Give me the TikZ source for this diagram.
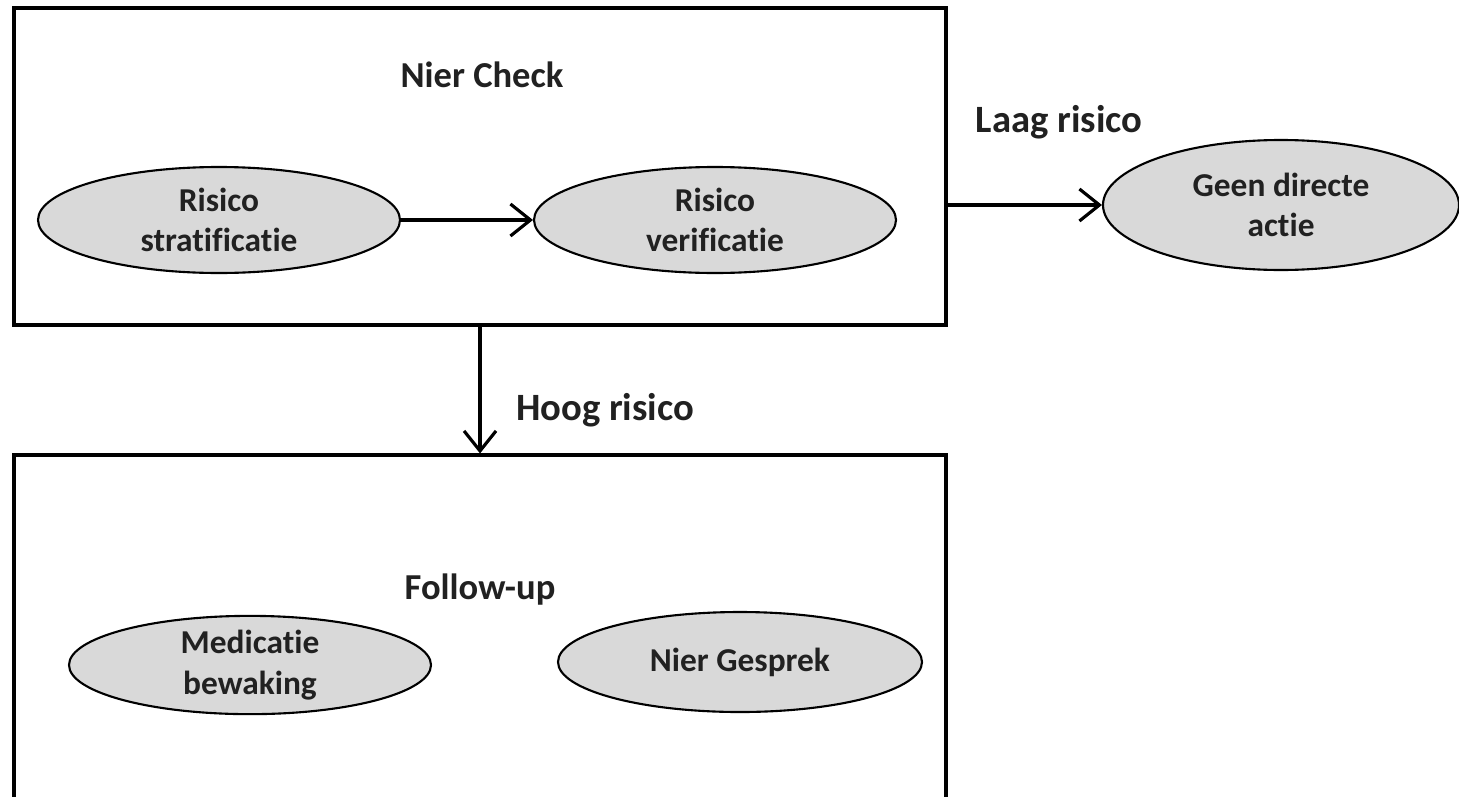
\documentclass[tikz,border=0pt]{standalone}
\usepackage{fontspec}
\setmainfont[Ligatures=NoCommon]{Carlito}
\usepackage{tikz}
\usetikzlibrary{shapes.geometric,arrows.meta}
\definecolor{bubbleGray}{rgb}{0.85,0.85,0.85}
\definecolor{textGray}{rgb}{0.13,0.13,0.13}

\begin{document}
\begin{tikzpicture}[font=\fontsize{9.5}{11.5}\selectfont\bfseries,
  groupbox/.style={draw, line width=0.9pt, minimum width=9.32cm, inner sep=0pt},
  bubble/.style={ellipse, draw, line width=0.6pt, fill=bubbleGray, text=textGray, align=center, inner sep=0pt},
  flow/.style={line width=0.9pt, -{Straight Barb[length=2mm, width=3.2mm, line width=0.9pt]}},
  title/.style={text=textGray, font=\fontsize{10.4}{12}\selectfont\bfseries},
  tag/.style={text=textGray, font=\fontsize{11}{13}\selectfont\bfseries}]
 	\useasboundingbox (0,0) rectangle (14.59,7.96);
 	\node[groupbox, minimum height=3.17cm] (check) at (4.80,6.295) {};
 	\node[groupbox, minimum height=4.01cm] (followup) at (4.80,1.405) {};
 	\node[title] (checktitle) at (4.82,7.21) {Nier Check};
 	\node[title] (followtitle) at (4.80,2.06) {Follow-up};
 	\node[bubble, minimum width=3.62cm, minimum height=1.06cm] (strat) at (2.19,5.76) {Risico\\stratificatie};
 	\node[bubble, minimum width=3.62cm, minimum height=1.06cm] (verif) at (7.15,5.76) {Risico\\verificatie};
 	\node[bubble, minimum width=3.56cm, minimum height=1.30cm] (geen) at (12.81,5.91) {Geen directe\\actie};
 	\node[bubble, minimum width=3.62cm, minimum height=0.98cm] (medic) at (2.50,1.31) {Medicatie\\bewaking};
 	\node[bubble, minimum width=3.64cm, minimum height=1.00cm] (gesprek) at (7.40,1.34) {Nier Gesprek};
 	\node[tag] (laag) at (10.59,6.74) {Laag risico};
 	\node[tag] (hoog) at (6.05,3.86) {Hoog risico};
 	\draw[flow] (strat) -- (verif);
 	\draw[flow] (check.east |- geen.west) -- (geen.west);
 	\draw[flow] (check.south) -- (followup.north);
\end{tikzpicture}
\end{document}
